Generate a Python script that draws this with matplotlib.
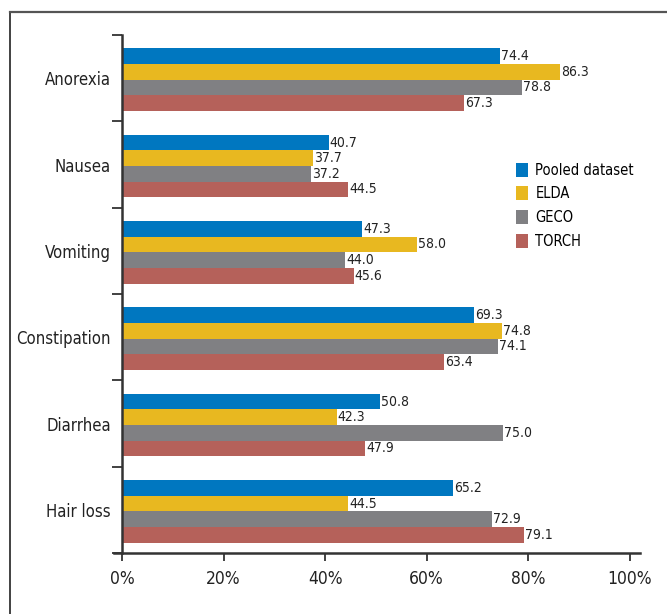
import numpy as np
import matplotlib
matplotlib.use("Agg")
import matplotlib.pyplot as plt
from matplotlib.lines import Line2D
from matplotlib.patches import Patch

plt.rcParams['font.family'] = ['Liberation Sans Narrow', 'DejaVu Sans']
plt.rcParams['font.stretch'] = 'condensed'

# data
categories = ["Anorexia", "Nausea", "Vomiting", "Constipation", "Diarrhea", "Hair loss"]
series = ["Pooled dataset", "ELDA", "GECO", "TORCH"]
pooled = [74.4, 40.7, 47.3, 69.3, 50.8, 65.2]
elda = [86.3, 37.7, 58.0, 74.8, 42.3, 44.5]
geco = [78.8, 37.2, 44.0, 74.1, 75.0, 72.9]
torch = [67.3, 44.5, 45.6, 63.4, 47.9, 79.1]
colors = ["#0077c0", "#e8b820", "#808083", "#b5615a"]
xticks = [0, 20, 40, 60, 80, 100]

fig = plt.figure(figsize=(6.67, 6.14), dpi=100)
ax = fig.add_axes([0.183, 0.0993, 0.7765, 0.8437])

# outer frame (left and top only)
fig.add_artist(Line2D([0.015, 0.015], [0, 0.9805], transform=fig.transFigure, color="#333333", lw=1.3))
fig.add_artist(Line2D([0.015, 1.0], [0.9805, 0.9805], transform=fig.transFigure, color="#555555", lw=1.6))

n = len(categories)
ypos = np.arange(n)[::-1]
h = 0.181
for k, (vals, col) in enumerate(zip([pooled, elda, geco, torch], colors)):
    y = ypos - (k - 1.5) * h - 0.017
    ax.barh(y, vals, height=h, color=col, edgecolor="none")
    for yy, v in zip(y, vals):
        ax.text(v + 0.2, yy, f"{v:.1f}", va="center", ha="left", fontsize=10,
                color="#222222", bbox=dict(facecolor="white", edgecolor="none", pad=0.3))

ax.set_xlim(0, 102)
ax.set_ylim(-0.5, n - 0.5)
ax.set_xticks(xticks)
ax.set_xticklabels([f"{t}%" for t in xticks], fontsize=12.5, color="#222222")
ax.set_yticks(ypos)
ax.set_yticklabels(categories, fontsize=12, color="#222222")
ax.tick_params(axis="y", which="major", length=0, pad=8)
ax.set_yticks(np.arange(n + 1) - 0.5, minor=True)
ax.tick_params(axis="y", which="minor", length=7, width=1.3, color="#333333")
ax.tick_params(axis="x", length=6, width=1.3, color="#333333", pad=6)

for s in ["top", "right"]:
    ax.spines[s].set_visible(False)
for s in ["left", "bottom"]:
    ax.spines[s].set_linewidth(1.8)
    ax.spines[s].set_color("#333333")
ax.spines["bottom"].set_bounds(-1.5, 102)

handles = [Patch(facecolor=c, edgecolor="none") for c in colors]
ax.legend(handles, series, loc="upper left", bbox_to_anchor=(0.75, 0.765), frameon=False,
          fontsize=10.5, handlelength=0.8, handleheight=1.1, handletextpad=0.5, labelspacing=0.6,
          borderaxespad=0)

fig.savefig("out.png", dpi=100)
